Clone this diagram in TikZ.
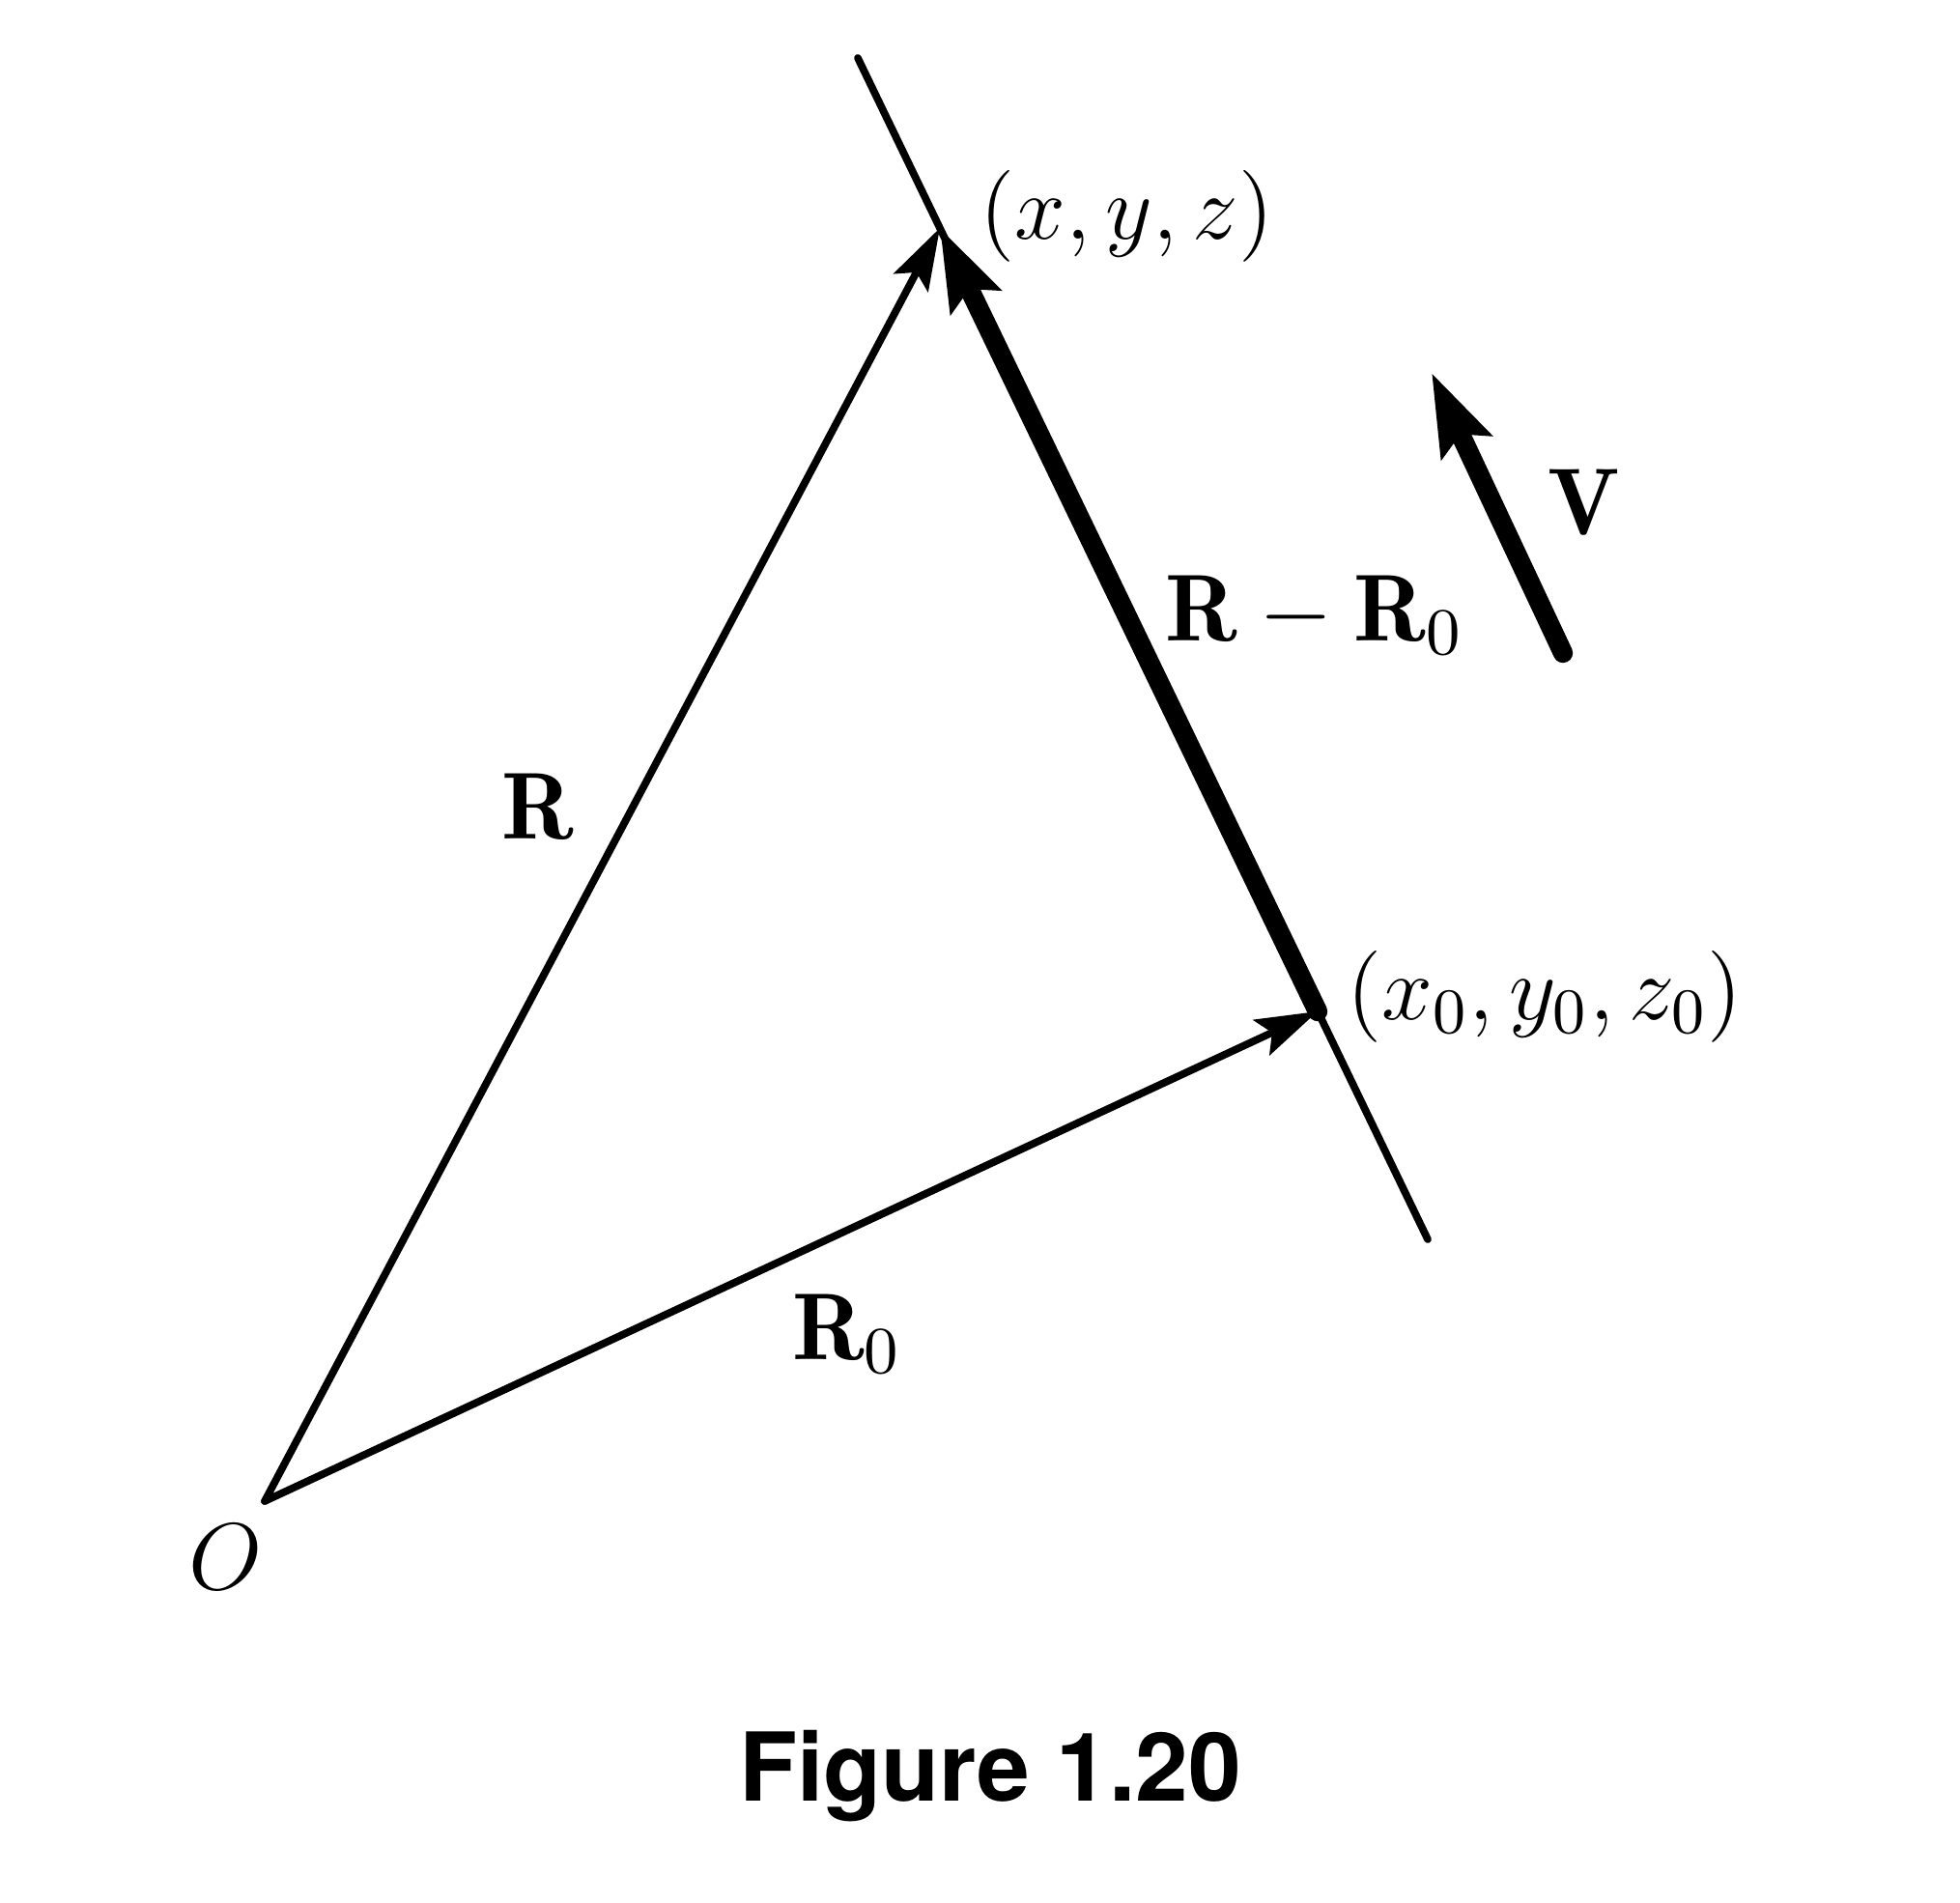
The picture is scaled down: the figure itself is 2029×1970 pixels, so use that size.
\RequirePackage{fix-cm}
\documentclass[tikz,border=0pt]{standalone}
\usepackage{fontspec}
\newfontfamily\capfont{TeX Gyre Heros}
\usepackage{amsmath}
\usetikzlibrary{positioning, calc, arrows.meta}
\tikzset{thinln/.style={draw, line width=1.1pt, line cap=round}}
\tikzset{arrthin/.style={thinln, -{Stealth[length=0.32cm, width=0.2cm, inset=0.06cm]}}}
\tikzset{arrthick/.style={draw, line width=2.9pt, line cap=round, -{Stealth[length=0.42cm, width=0.28cm, inset=0.07cm]}}}
\tikzset{lbl/.style={inner sep=0, anchor=base, font=\fontsize{14}{16}\selectfont}}
\tikzset{pt/.style={inner sep=0, anchor=west, font=\fontsize{13.5}{15}\selectfont}}

\begin{document}
\begin{tikzpicture}[x=0.005cm, y=-0.005cm]
    \useasboundingbox (0,0) rectangle (2029,1970);
    \coordinate (O) at (274,1554);
    \coordinate (Ltop) at (888,60);
    \coordinate (Lbot) at (1478,1283);
    \coordinate (A) at (973,236);
    \coordinate (P0) at (1364,1047);
    \coordinate (Vtail) at (1618,676);
    \coordinate (Vtip) at (1482,386);
%
    \draw[thinln] (Ltop) -- (Lbot);
    \draw[arrthin] (O) -- (A);
    \draw[arrthin] (O) -- (P0);
    \draw[arrthick] (P0) -- (A);
    \draw[arrthick] (Vtail) -- (Vtip);
%
    \node[pt] (xyz) at (1013,224) {$(x, y, z)$};
    \node[pt] (xyz0) at (1393,1032) {$(x_0, y_0, z_0)$};
    \node[lbl] (diff) at (1361,663) {$\mathbf{R}-\mathbf{R}_0$};
    \node[lbl] (vV) at (1640,553) {$\mathbf{V}$};
    \node[lbl] (vR) at (557,868) {$\mathbf{R}$};
    \node[lbl] (vR0) at (877,1407) {$\mathbf{R}_0$};
    \node[lbl] (orig) at (234,1645) {$O$};
    \node[lbl, font=\capfont\bfseries\fontsize{14}{16}\selectfont] (cap) at (1025,1864) {Figure 1.20};
\end{tikzpicture}
\end{document}
